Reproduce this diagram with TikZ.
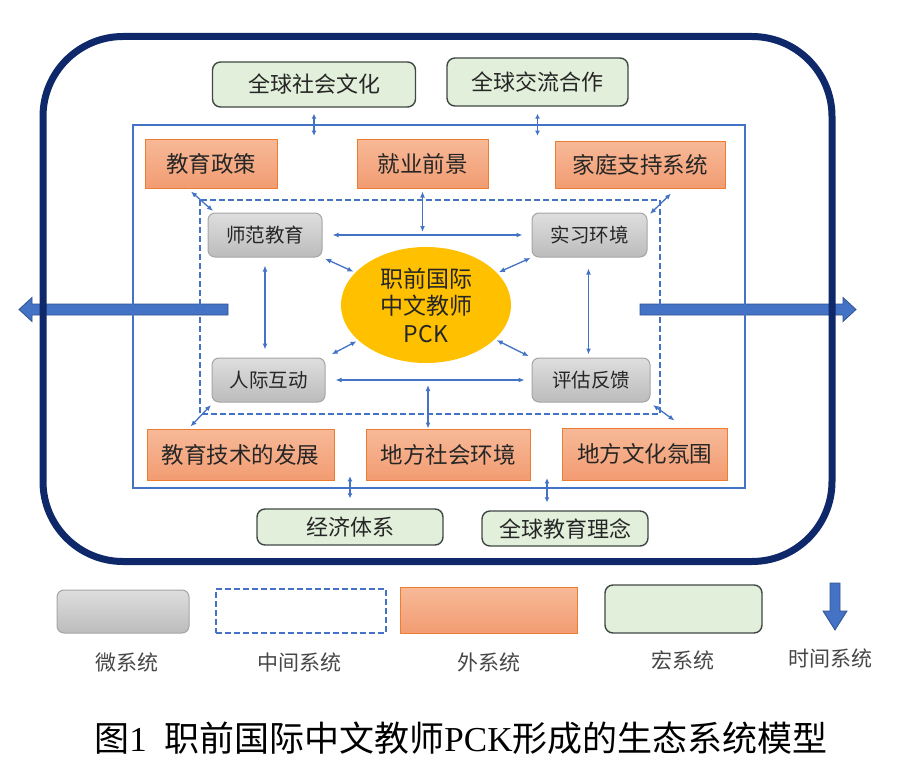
\documentclass[tikz,border=0pt]{standalone}
\usepackage{fontspec}
\newfontfamily\cjk{Noto Sans CJK SC}
\newfontfamily\capserif{Liberation Serif}
\usetikzlibrary{arrows.meta,shapes.geometric,calc}
\definecolor{navy}{RGB}{14,40,105}
\definecolor{cblue}{RGB}{68,114,196}
\definecolor{dblue}{RGB}{47,82,143}
\definecolor{gfill}{RGB}{226,239,218}
\definecolor{gedge}{RGB}{64,72,70}
\definecolor{otop}{RGB}{247,185,152}
\definecolor{obot}{RGB}{242,156,114}
\definecolor{oedge}{RGB}{237,125,49}
\definecolor{grtop}{RGB}{222,222,222}
\definecolor{grbot}{RGB}{188,188,188}
\definecolor{gredge}{RGB}{165,165,165}
\definecolor{txt}{RGB}{38,38,38}
\definecolor{gold}{RGB}{255,192,0}
\tikzset{
  macrobox/.style={draw=gedge, line width=1.4pt, fill=gfill, rounded corners=8pt,
    font=\cjk\fontsize{22}{26}\selectfont, text=txt, inner sep=0pt},
  exobox/.style={draw=oedge, line width=1pt, top color=otop, bottom color=obot,
    font=\cjk\fontsize{22.5}{26}\selectfont, text=txt, inner sep=0pt},
  microbox/.style={draw=gredge, line width=1pt, top color=grtop, bottom color=grbot,
    rounded corners=7pt, font=\cjk\fontsize{19.5}{23}\selectfont, text=txt, inner sep=0pt},
  dbl/.style={cblue, line width=1.3pt, {Latex[length=6pt,width=5pt]}-{Latex[length=6pt,width=5pt]}},
  sdbl/.style={cblue, line width=1.3pt, {Latex[length=5pt,width=5pt]}-{Latex[length=5pt,width=5pt]}},
  bigarrow/.style={fill=cblue, draw=dblue, line width=0.8pt},
  leglabel/.style={font=\cjk\fontsize{21}{25}\selectfont, text=black!72, inner sep=0pt}
}
\begin{document}
\begin{tikzpicture}[x=1pt,y=-1pt]
\useasboundingbox (0,0) rectangle (900,776);

% time-system arrows (behind the frames)
\draw[bigarrow] (228,304) -- (32,304) -- (32,297.5) -- (19,309.5) -- (32,321.5) -- (32,315) -- (228,315) -- cycle;
\draw[bigarrow] (640,304) -- (843,304) -- (843,297.5) -- (856,309.5) -- (843,321.5) -- (843,315) -- (640,315) -- cycle;

% outer macro frame
\draw[navy, line width=7pt, rounded corners=80pt] (43,36.5) rectangle (832,561.5);
% exo frame
\draw[cblue, line width=2pt] (133,125) rectangle (745,488);
% meso frame
\coordinate (mesoTL) at (200,200);
\coordinate (mesoTR) at (660,200);
\coordinate (mesoBL) at (200,414);
\coordinate (mesoBR) at (660,414);
\draw[cblue, line width=2pt, dash pattern=on 6pt off 3pt] (mesoTL) rectangle (mesoBR);

% macro boxes
\node[macrobox, minimum width=203pt, minimum height=45pt] (mac1) at (314,84.5) {全球社会文化};
\node[macrobox, minimum width=181pt, minimum height=48pt] (mac2) at (537.5,82) {全球交流合作};
\node[macrobox, minimum width=186pt, minimum height=36pt] (mac3) at (350,527) {经济体系};
\node[macrobox, minimum width=166pt, minimum height=35pt] (mac4) at (565,528.5) {全球教育理念};

% exo boxes
\node[exobox, minimum width=132pt, minimum height=49pt] (exo1) at (211,163.5) {教育政策};
\node[exobox, minimum width=131pt, minimum height=49pt] (exo2) at (422.5,163.5) {就业前景};
\node[exobox, minimum width=170pt, minimum height=47pt] (exo3) at (640,164.5) {家庭支持系统};
\node[exobox, minimum width=187pt, minimum height=51pt] (exo4) at (240.5,454.5) {教育技术的发展};
\node[exobox, minimum width=164pt, minimum height=51pt] (exo5) at (448,454.5) {地方社会环境};
\node[exobox, minimum width=165pt, minimum height=52pt] (exo6) at (644.5,454) {地方文化氛围};

% micro boxes
\node[microbox, minimum width=114pt, minimum height=44pt] (mic1) at (265,235) {师范教育};
\node[microbox, minimum width=115pt, minimum height=44pt] (mic2) at (589.5,235) {实习环境};
\node[microbox, minimum width=113pt, minimum height=44pt] (mic3) at (268.5,380) {人际互动};
\node[microbox, minimum width=118pt, minimum height=44pt] (mic4) at (591,380) {评估反馈};

% centre
\node[ellipse, fill=gold, minimum width=170pt, minimum height=116pt, inner sep=0pt,
  align=center, text=txt, font=\cjk\fontsize{23}{27.5}\selectfont] (pck) at (426,305)
  {职前国际\\中文教师\\PCK};

% macro <-> exo
\draw[sdbl] ([yshift=-6pt]mac1.south) -- ([yshift=-28pt]mac1.south);
\draw[sdbl] ([yshift=-7pt]mac2.south) -- ([yshift=-29pt]mac2.south);
\draw[sdbl] ([yshift=10pt]mac3.north) -- ([yshift=32pt]mac3.north);
\draw[sdbl] ([xshift=-18pt,yshift=8pt]mac4.north) -- ([xshift=-18pt,yshift=32pt]mac4.north);

% exo <-> meso
\draw[dbl, shorten <=3pt, shorten >=3pt] (exo2.south) -- (exo2.south |- mic1.east);
\draw[dbl, shorten <=5pt] ([xshift=-20pt]exo5.north |- mic3.east) -- ([xshift=-20pt]exo5.north);
\draw[dbl] ([xshift=-20pt,yshift=-3pt]exo1.south) -- ($(mesoTL)+(13,11)$);
\draw[dbl] ([xshift=31pt,yshift=-5pt]exo3.south) -- ($(mesoTR)+(-10,14)$);
\draw[dbl] ([xshift=-50pt,yshift=2pt]exo4.north) -- ($(mesoBL)+(11,-9)$);
\draw[dbl] ([xshift=30pt,yshift=7pt]exo6.north) -- ($(mesoBR)+(-7,-9)$);

% micro <-> micro
\draw[dbl, shorten <=10pt, shorten >=9pt] (mic1.east) -- (mic2.west |- mic1.east);
\draw[dbl, shorten <=10pt, shorten >=7pt] (mic3.east) -- (mic4.west |- mic3.east);
\draw[dbl, shorten <=8pt, shorten >=8pt] (mic1.south) -- (mic1.south |- mic3.north);
\draw[dbl, shorten <=11pt, shorten >=3pt] ([xshift=-1pt]mic2.south) -- ([xshift=-1pt]mic2.south |- mic4.north);

% micro <-> centre
\draw[dbl, shorten <=3pt, shorten >=2pt] (mic1.south east) -- (pck);
\draw[dbl, shorten <=1pt, shorten >=2pt] (mic2.south west) -- (pck);
\draw[dbl, shorten <=7pt, shorten >=2pt] (mic3.north east) -- (pck);
\draw[dbl, shorten <=3pt, shorten >=2pt] (mic4.north west) -- (pck);

% legend
\node[microbox, minimum width=132pt, minimum height=43pt] (lg1) at (123,611.5) {};
\node[draw=cblue, line width=2pt, dash pattern=on 6pt off 3pt, minimum width=170pt, minimum height=44pt, inner sep=0pt] (lg2) at (301,611) {};
\node[exobox, minimum width=177pt, minimum height=46pt] (lg3) at (488.5,610) {};
\node[macrobox, minimum width=157pt, minimum height=48pt] (lg4) at (683.5,609) {};
\draw[bigarrow] (830,583) -- (840,583) -- (840,611) -- (847,611) -- (835,630) -- (823,611) -- (830,611) -- cycle;
\node[leglabel] (ll1) at (126.5,662) {微系统};
\node[leglabel] (ll2) at (299.5,662) {中间系统};
\node[leglabel] (ll3) at (489,662) {外系统};
\node[leglabel] (ll4) at (683,660) {宏系统};
\node[leglabel] (ll5) at (830,658) {时间系统};

% caption
\node[font=\cjk\fontsize{35}{40}\selectfont, text=black, inner sep=0pt] (cap) at (461,738)
  {图{\capserif 1}\hspace{0.5em}职前国际中文教师{\capserif PCK}形成的生态系统模型};
\end{tikzpicture}
\end{document}
